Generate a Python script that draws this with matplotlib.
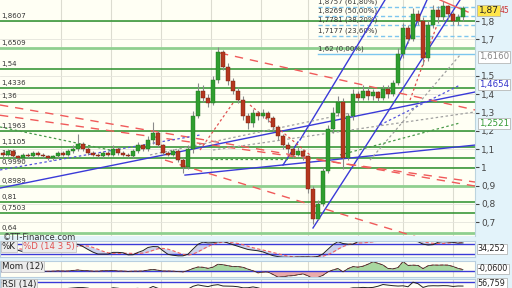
"""
Daily candlestick chart with drawn levels, trendlines and three indicator panels.
"""

import numpy as np
import pandas as pd
import matplotlib
matplotlib.use('Agg')
import matplotlib.pyplot as plt
import matplotlib.transforms as mtransforms

# --- price data (one candle per bar) ---
opens = [1.08, 1.07, 1.09, 1.06, 1.05, 1.07, 1.06, 1.08, 1.07, 1.06,
         1.05, 1.06, 1.08, 1.07, 1.09, 1.10, 1.13, 1.10, 1.08, 1.07,
         1.06, 1.08, 1.07, 1.10, 1.08, 1.07, 1.06, 1.09, 1.12, 1.10,
         1.15, 1.19, 1.12, 1.08, 1.07, 1.09, 1.04, 1.00, 1.10, 1.28,
         1.42, 1.38, 1.35, 1.48, 1.63, 1.55, 1.47, 1.42, 1.37, 1.28,
         1.24, 1.30, 1.28, 1.30, 1.27, 1.22, 1.17, 1.12, 1.10, 1.07,
         1.09, 1.06, 0.88, 0.72, 0.80, 0.98, 1.21, 1.30, 1.36, 1.05,
         1.28, 1.40, 1.38, 1.42, 1.39, 1.41, 1.38, 1.43, 1.40, 1.46,
         1.62, 1.76, 1.70, 1.84, 1.80, 1.60, 1.78, 1.86, 1.82, 1.88,
         1.84, 1.80, 1.82]
highs = [1.09, 1.10, 1.10, 1.07, 1.08, 1.08, 1.09, 1.09, 1.08, 1.07,
         1.07, 1.09, 1.09, 1.10, 1.12, 1.18, 1.14, 1.11, 1.09, 1.08,
         1.09, 1.09, 1.12, 1.11, 1.09, 1.08, 1.10, 1.14, 1.13, 1.17,
         1.25, 1.20, 1.13, 1.09, 1.10, 1.10, 1.05, 1.12, 1.31, 1.46,
         1.45, 1.40, 1.50, 1.66, 1.64, 1.57, 1.49, 1.44, 1.39, 1.30,
         1.32, 1.31, 1.32, 1.31, 1.28, 1.23, 1.18, 1.14, 1.11, 1.11,
         1.10, 1.07, 0.90, 0.82, 1.00, 1.23, 1.33, 1.39, 1.38, 1.30,
         1.43, 1.42, 1.45, 1.44, 1.43, 1.42, 1.45, 1.45, 1.48, 1.65,
         1.79, 1.78, 1.87, 1.86, 1.82, 1.80, 1.89, 1.88, 1.91, 1.89,
         1.85, 1.84, 1.88]
lows = [1.05, 1.06, 1.05, 1.03, 1.04, 1.05, 1.05, 1.06, 1.05, 1.04,
        1.04, 1.05, 1.06, 1.06, 1.08, 1.09, 1.09, 1.07, 1.06, 1.05,
        1.05, 1.06, 1.06, 1.07, 1.06, 1.05, 1.05, 1.08, 1.09, 1.09,
        1.13, 1.11, 1.07, 1.06, 1.06, 1.03, 0.97, 0.99, 1.08, 1.27,
        1.36, 1.33, 1.34, 1.46, 1.53, 1.45, 1.40, 1.35, 1.26, 1.21,
        1.22, 1.26, 1.27, 1.25, 1.20, 1.15, 1.10, 1.08, 1.05, 1.06,
        1.04, 0.86, 0.69, 0.71, 0.79, 0.97, 1.19, 1.28, 0.99, 1.04,
        1.26, 1.36, 1.37, 1.37, 1.37, 1.36, 1.37, 1.38, 1.39, 1.45,
        1.60, 1.68, 1.69, 1.78, 1.56, 1.58, 1.76, 1.79, 1.80, 1.81,
        1.78, 1.78, 1.80]
closes = [1.07, 1.09, 1.06, 1.05, 1.07, 1.06, 1.08, 1.07, 1.06, 1.05,
          1.06, 1.08, 1.07, 1.09, 1.10, 1.13, 1.10, 1.08, 1.07, 1.06,
          1.08, 1.07, 1.10, 1.08, 1.07, 1.06, 1.09, 1.12, 1.10, 1.15,
          1.19, 1.12, 1.08, 1.07, 1.09, 1.04, 1.00, 1.10, 1.28, 1.42,
          1.38, 1.35, 1.48, 1.63, 1.55, 1.47, 1.42, 1.37, 1.28, 1.24,
          1.30, 1.28, 1.30, 1.27, 1.22, 1.17, 1.12, 1.10, 1.07, 1.09,
          1.06, 0.88, 0.72, 0.80, 0.98, 1.21, 1.30, 1.36, 1.05, 1.28,
          1.40, 1.38, 1.42, 1.39, 1.41, 1.38, 1.43, 1.40, 1.46, 1.62,
          1.76, 1.70, 1.84, 1.80, 1.60, 1.78, 1.86, 1.82, 1.88, 1.84,
          1.80, 1.82, 1.87]

# horizontal support / resistance levels
level_prices = [1.80, 1.6509, 1.54, 1.4336, 1.36, 1.1963, 1.1105, 1.05,
                0.999, 0.8989, 0.81, 0.7503, 0.64]
level_labels = ['1,8607', '1,6509', '1,54', '1,4336', '1,36', '1,1963', '1,1105',
                '1,05', '0,9990', '0,8989', '0,81', '0,7503', '0,64']
level_light = [False, True, False, False, False, False, False,
               False, False, True, False, False, True]

# fibonacci retracement
fib_prices = [1.8757, 1.8269, 1.7781, 1.7177, 1.62]
fib_labels = ['1,8757 (61,80%)', '1,8269 (50,00%)', '1,7781 (38,20%)',
              '1,7177 (23,60%)', '1,62 (0,00%)']
fib_start = 63

y_ticks = [0.7, 0.8, 0.9, 1.0, 1.1, 1.2, 1.3, 1.4, 1.5, 1.7, 1.8]
grid_idx = [11.6, 21.6, 31.6, 41.6, 51.6, 61, 71, 80, 90]

# drawn trendlines: (bar0, price0, bar1, price1)
blue_lines = [(-0.6, 0.887, 94.4, 1.412), (36.4, 0.958, 94.4, 1.122),
              (62, 0.669, 91.4, 1.915), (59.4, 1.150, 76.4, 1.915),
              (79.4, 1.587, 84.8, 1.915), (56, 1.013, 59, 1.139)]
red_dashed = [(-0.6, 1.341, 94.4, 0.898), (-0.6, 1.285, 94.4, 0.920),
              (43.4, 1.625, 94.4, 1.314), (32.4, 1.040, 83.4, 0.614)]
red_solid = [(87.4, 1.915, 93, 1.849)]
red_dotted = [(81.4, 1.368, 86.8, 1.778), (39.4, 1.095, 46, 1.352),
              (49.4, 1.341, 61.4, 1.068)]
gray_dotted = [(73.4, 1.040, 91.4, 1.614), (42, 1.095, 94.4, 1.303),
               (29.4, 1.068, 69.4, 1.297)]
blue_dotted = [(-0.6, 0.986, 39.4, 1.177), (75.4, 1.232, 91.4, 1.450)]
green_dotted = [(-0.6, 1.221, 21.4, 1.095), (41.4, 1.046, 57.4, 1.046),
                (67.4, 1.068, 91.4, 1.243)]

# boxes on the price scale
scale_prices = [1.6160, 1.4654, 1.2521]
scale_labels = ['1,6160', '1,4654', '1,2521']
scale_colors = ['#888888', '#3333cc', '#339933']

BG = '#e3f3fa'
PANEL = '#fffff4'
XLIM = (-0.6, 94.4)


def comma(v, _=None):
    return f'{v:g}'.replace('.', ',')


def draw_lines(ax, lines, **kw):
    for x0, p0, x1, p1 in lines:
        ax.plot([x0, x1], [p0, p1], **kw)


fig = plt.figure(figsize=(5.12, 2.88), dpi=100, facecolor=BG)
ax = fig.add_axes([0, 52 / 288, 475 / 512, 236 / 288], facecolor=PANEL)

o = np.array(opens)
h = np.array(highs)
l = np.array(lows)
c = np.array(closes)
x = np.arange(len(c))

# grid
for gx in grid_idx:
    ax.axvline(gx, color='#dcdcd0', lw=0.8, zorder=0)
for t in y_ticks:
    ax.axhline(t, color='#e4e4dc', lw=0.6, zorder=0)

# levels
for p, lab, light in zip(level_prices, level_labels, level_light):
    if light:
        ax.axhline(p, color='#8fcf8f', lw=2.0, zorder=1)
    else:
        ax.axhline(p, color='#2a8f2a', lw=1.1, zorder=1)
    ax.annotate(lab, (-0.3, p), xytext=(0, 1.5), textcoords='offset points',
                fontsize=5, color='#333333', va='bottom', ha='left', zorder=2)

# fibonacci
for i, (p, lab) in enumerate(zip(fib_prices, fib_labels)):
    last = i == len(fib_prices) - 1
    ax.plot([fib_start, XLIM[1]], [p, p], color='#7cc6ee',
            lw=1.0, ls='-' if last else (0, (3, 2)), zorder=2)
    ax.annotate(lab, (fib_start, p), xytext=(0, 1.5), textcoords='offset points',
                fontsize=5, color='#333333', va='bottom', ha='left', zorder=2)

# trendlines
draw_lines(ax, blue_lines, color='#3a3ad8', lw=1.0, zorder=3)
draw_lines(ax, red_dashed, color='#f05a5a', lw=1.0, ls=(0, (6, 5)), zorder=3)
draw_lines(ax, red_solid, color='#f05a5a', lw=1.0, zorder=3)
draw_lines(ax, red_dotted, color='#e05050', lw=0.9, ls=(0, (2, 2)), zorder=3)
draw_lines(ax, gray_dotted, color='#a0a0a0', lw=0.9, ls=(0, (2, 2)), zorder=3)
draw_lines(ax, blue_dotted, color='#5555dd', lw=0.9, ls=(0, (2, 2)), zorder=3)
draw_lines(ax, green_dotted, color='#4a9a4a', lw=0.9, ls=(0, (2, 2)), zorder=3)

# candles
up = c >= o
ax.vlines(x, l, h, color='#8a8a8a', lw=0.8, zorder=4)
body = np.where(np.abs(c - o) < 0.004, 0.004, c - o)
ax.bar(x[up], body[up], bottom=o[up], width=0.62, color='#2f9e2f',
       edgecolor='#1f6f1f', lw=0.3, zorder=5)
ax.bar(x[~up], body[~up], bottom=o[~up], width=0.62, color='#b5371f',
       edgecolor='#6e2010', lw=0.3, zorder=5)

ax.set_xlim(*XLIM)
ax.set_ylim(0.6251, 1.9148)
ax.yaxis.tick_right()
ax.set_yticks(y_ticks)
ax.yaxis.set_major_formatter(plt.FuncFormatter(comma))
ax.tick_params(axis='y', direction='out', length=3, pad=1.5, labelsize=6.5,
               colors='#444444')
ax.set_xticks([])
for s in ['top', 'left', 'bottom']:
    ax.spines[s].set_visible(False)
ax.spines['right'].set_color('#bcd4de')

# price-scale boxes
tr = mtransforms.blended_transform_factory(ax.transAxes, ax.transData)
ax.text(1.008, c[-1] - 0.012, comma(c[-1]), transform=tr, fontsize=6.5,
        va='center', ha='left', color='#222222', clip_on=False, zorder=10,
        bbox=dict(boxstyle='square,pad=0.15', fc='#ffe64a', ec='#aaaaaa', lw=0.5))
ax.text(1.052, c[-1] - 0.012, '45', transform=tr, fontsize=5.5,
        va='center', ha='left', color='#cc3333', clip_on=False, zorder=10)
for p, lab, col in zip(scale_prices, scale_labels, scale_colors):
    ax.text(1.008, p - 0.012, lab, transform=tr, fontsize=6.2, va='center',
            ha='left', color=col, clip_on=False, zorder=10,
            bbox=dict(boxstyle='square,pad=0.15', fc='white', ec='#aaaaaa', lw=0.5))

fig.text(3 / 512, 1 - 238 / 288, '©TT-Finance.com', fontsize=6, color='#333333',
         va='center', ha='left')

# --- indicators ---
cs = pd.Series(c)
hs = pd.Series(h)
ls_ = pd.Series(l)
low14 = ls_.rolling(14, min_periods=1).min()
high14 = hs.rolling(14, min_periods=1).max()
raw_k = 100 * (cs - low14) / (high14 - low14)
slow_k = raw_k.rolling(3, min_periods=1).mean()
slow_d = slow_k.rolling(5, min_periods=1).mean()
mom = cs - cs.shift(12).fillna(cs.iloc[0])
delta = cs.diff().fillna(0)
gain = delta.clip(lower=0).rolling(14, min_periods=1).mean()
loss = (-delta).clip(lower=0).rolling(14, min_periods=1).mean()
rsi = 100 - 100 / (1 + gain / loss.replace(0, 1e-6))

panels = [
    ([0, 31 / 288, 475 / 512, 16 / 288], '%K', '%D (14 3 5)', '34,252'),
    ([0, 11 / 288, 475 / 512, 16 / 288], 'Mom (12)', None, '-0,0600'),
    ([0, -12 / 288, 475 / 512, 21 / 288], 'RSI (14)', None, '56,759'),
]

for rect, name, extra, val in panels:
    pax = fig.add_axes(rect, facecolor=PANEL)
    pax.set_xlim(*XLIM)
    pax.set_xticks([])
    pax.set_yticks([])
    for s in pax.spines.values():
        s.set_color('#b8cfe0')
        s.set_linewidth(0.8)
    for gx in grid_idx:
        pax.axvline(gx, color='#dcdcd0', lw=0.8, zorder=0)
    if name == '%K':
        pax.set_ylim(5, 95)
        pax.axhline(80, color='#3a3ad8', lw=1.0)
        pax.axhline(20, color='#3a3ad8', lw=1.0)
        pax.fill_between(x, slow_k, slow_d, color='#aab4e8', alpha=0.6, lw=0)
        pax.plot(x, slow_d, color='#f06060', lw=0.8, ls=(0, (3, 2)))
        pax.plot(x, slow_k, color='#222222', lw=0.7)
        ty = 0.93
    elif name == 'Mom (12)':
        pax.set_ylim(-0.45, 0.75)
        pax.axhline(0, color='#3a3ad8', lw=1.0)
        pax.fill_between(x, mom, 0, where=mom >= 0, color='#a8d8a0', lw=0,
                         interpolate=True)
        pax.fill_between(x, mom, 0, where=mom < 0, color='#eaaaaa', lw=0,
                         interpolate=True)
        pax.plot(x, mom, color='#e06060', lw=0.7, ls=(0, (3, 2)))
        pax.plot(x, mom, color='#222222', lw=0.5)
        ty = 0.93
    else:
        pax.set_ylim(0, 100)
        pax.axhline(86, color='#3a3ad8', lw=1.0)
        pax.plot(x, rsi, color='#222222', lw=0.7)
        ty = 0.96
    pax.text(0.004, ty, name, transform=pax.transAxes, fontsize=6.2,
             va='top', ha='left', color='#222222',
             bbox=dict(boxstyle='square,pad=0.12', fc='#ececec', ec='#bbbbbb', lw=0.5))
    if extra:
        pax.text(0.048, ty, extra, transform=pax.transAxes, fontsize=6.2,
                 va='top', ha='left', color='#e05050',
                 bbox=dict(boxstyle='square,pad=0.12', fc='#ececec', ec='#bbbbbb', lw=0.5))
    vy = 0.5 if name != 'RSI (14)' else 0.8
    pax.text(1.006, vy, val, transform=pax.transAxes, fontsize=5.8,
             va='center', ha='left', color='#222222', clip_on=False,
             bbox=dict(boxstyle='square,pad=0.12', fc='white', ec='#aaaaaa', lw=0.5))

fig.savefig('out.png', dpi=100, facecolor=BG)
